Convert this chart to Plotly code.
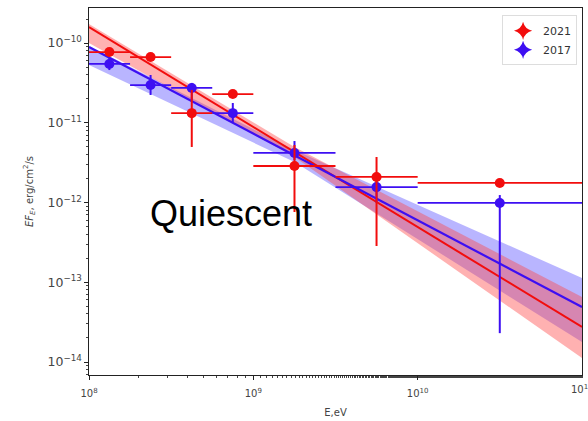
import plotly.graph_objects as go

# ---- data ----
bin_lo = [1.0e8, 1.778e8, 3.162e8, 5.623e8, 1.0e9, 3.162e9, 1.0e10]
bin_hi = [1.778e8, 3.162e8, 5.623e8, 1.0e9, 3.162e9, 1.0e10, 1.0e11]
energy = [1.33e8, 2.37e8, 4.22e8, 7.5e8, 1.78e9, 5.62e9, 3.16e10]

flux_2021 = [7.7e-11, 6.67e-11, 1.32e-11, 2.29e-11, 2.87e-12, 2.09e-12, 1.76e-12]
hi_2021 = [7.7e-11, 6.67e-11, 2.58e-11, 2.29e-11, 5.26e-12, 3.72e-12, 1.76e-12]
lo_2021 = [7.7e-11, 6.67e-11, 4.97e-12, 2.29e-11, 7.6e-13, 2.85e-13, 1.76e-12]

flux_2017 = [5.46e-11, 2.97e-11, 2.73e-11, 1.32e-11, 4.18e-12, 1.56e-12, 9.87e-13]
hi_2017 = [6.49e-11, 3.97e-11, 3.16e-11, 1.77e-11, 5.9e-12, 1.9e-12, 1.24e-12]
lo_2017 = [4.58e-11, 2.23e-11, 1.93e-11, 1.0e-11, 3.4e-12, 1.0e-12, 2.3e-14]

fit_x = [1.0e8, 1.0e11]
fit_2021 = [1.585e-10, 2.75e-14]
fit_2017 = [8.9e-11, 4.9e-14]

band_x = [1.0e8, 1.78e9, 1.0e11]
band_2021_top = [1.73e-10, 4.97e-12, 6.53e-14]
band_2021_bot = [1.0e-10, 3.72e-12, 1.12e-14]
band_2017_top = [9.17e-11, 4.55e-12, 1.13e-13]
band_2017_bot = [5.3e-11, 3.22e-12, 1.78e-14]

labels = ["2021", "2017"]
x_tick_vals = [1e8, 1e9, 1e10]
x_tick_text = ["10<sup>8</sup>", "10<sup>9</sup>", "10<sup>10</sup>"]
x_last_tick = "10<sup>11</sup>"

RED = "#f20d0d"
BLUE = "#3d0ff2"
RED_FILL = "rgba(255,70,70,0.42)"
BLUE_FILL = "rgba(80,70,255,0.40)"

fig = go.Figure()

# bands
for top, bot, fc in [(band_2017_top, band_2017_bot, BLUE_FILL),
                     (band_2021_top, band_2021_bot, RED_FILL)]:
    fig.add_trace(go.Scatter(x=band_x, y=bot, mode="lines", line=dict(width=0),
                             showlegend=False, hoverinfo="skip"))
    fig.add_trace(go.Scatter(x=band_x, y=top, mode="lines", line=dict(width=0),
                             fill="tonexty", fillcolor=fc, showlegend=False,
                             hoverinfo="skip"))

# fit lines
fig.add_trace(go.Scatter(x=fit_x, y=fit_2021, mode="lines",
                         line=dict(color=RED, width=2), showlegend=False))
fig.add_trace(go.Scatter(x=fit_x, y=fit_2017, mode="lines",
                         line=dict(color=BLUE, width=2.2), showlegend=False))


def add_points(flux, hi, lo, color):
    xp = [h - e for h, e in zip(bin_hi, energy)]
    xm = [e - l for e, l in zip(energy, bin_lo)]
    yp = [h - f for h, f in zip(hi, flux)]
    ym = [f - l for f, l in zip(flux, lo)]
    fig.add_trace(go.Scatter(
        x=energy, y=flux, mode="markers",
        marker=dict(color=color, size=10),
        error_x=dict(type="data", array=xp, arrayminus=xm, color=color,
                     thickness=1.8, width=0),
        error_y=dict(type="data", array=yp, arrayminus=ym, color=color,
                     thickness=2, width=0),
        showlegend=False))


add_points(flux_2017, hi_2017, lo_2017, BLUE)
add_points(flux_2021, hi_2021, lo_2021, RED)

# legend entries
for lab, col in zip(labels, [RED, BLUE]):
    fig.add_trace(go.Scatter(x=[None], y=[None], mode="markers", name=lab,
                             marker=dict(color=col, size=13, symbol="star-diamond")))

axis_common = dict(
    type="log", showgrid=False, zeroline=False, showline=True, mirror=True,
    linecolor="#222", linewidth=1.2, ticks="outside", ticklen=4,
    tickcolor="#222", exponentformat="power",
    tickfont=dict(family="DejaVu Sans", size=10, color="#444"),
    minor=dict(ticks="outside", ticklen=2, tickcolor="#444", showgrid=False),
)

fig.update_layout(
    width=588, height=421,
    margin=dict(l=89, r=6, t=8, b=46),
    paper_bgcolor="white", plot_bgcolor="white",
    xaxis=dict(range=[8, 11], tickmode="array", tickvals=x_tick_vals,
               ticktext=x_tick_text, ticklabelstandoff=5,
               title=dict(text="E,eV", font=dict(family="DejaVu Sans", size=10, color="#444"),
                          standoff=10),
               **axis_common),
    yaxis=dict(range=[-14.163, -9.561], dtick=1,
               title=dict(text="<i>EF<sub>E</sub></i>, erg/cm<sup>2</sup>/s",
                          font=dict(family="DejaVu Sans", size=10, color="#444"),
                          standoff=12),
               **axis_common),
    legend=dict(x=0.99, y=0.98, xanchor="right", yanchor="top",
                traceorder="normal",
                bgcolor="white", bordercolor="#ddd", borderwidth=1,
                font=dict(family="DejaVu Sans", size=11, color="#333")),
    annotations=[
        dict(text="Quiescent", xref="paper", yref="paper",
             x=0.288, y=0.44, xanchor="center", yanchor="middle",
             showarrow=False,
             font=dict(family="Liberation Sans", size=36, color="black")),
        dict(text=x_last_tick, xref="paper", yref="paper",
             x=1.0, y=0, xanchor="center", yanchor="top", yshift=-6,
             showarrow=False,
             font=dict(family="DejaVu Sans", size=10, color="#444")),
    ],
)

fig.write_html("out.html")
